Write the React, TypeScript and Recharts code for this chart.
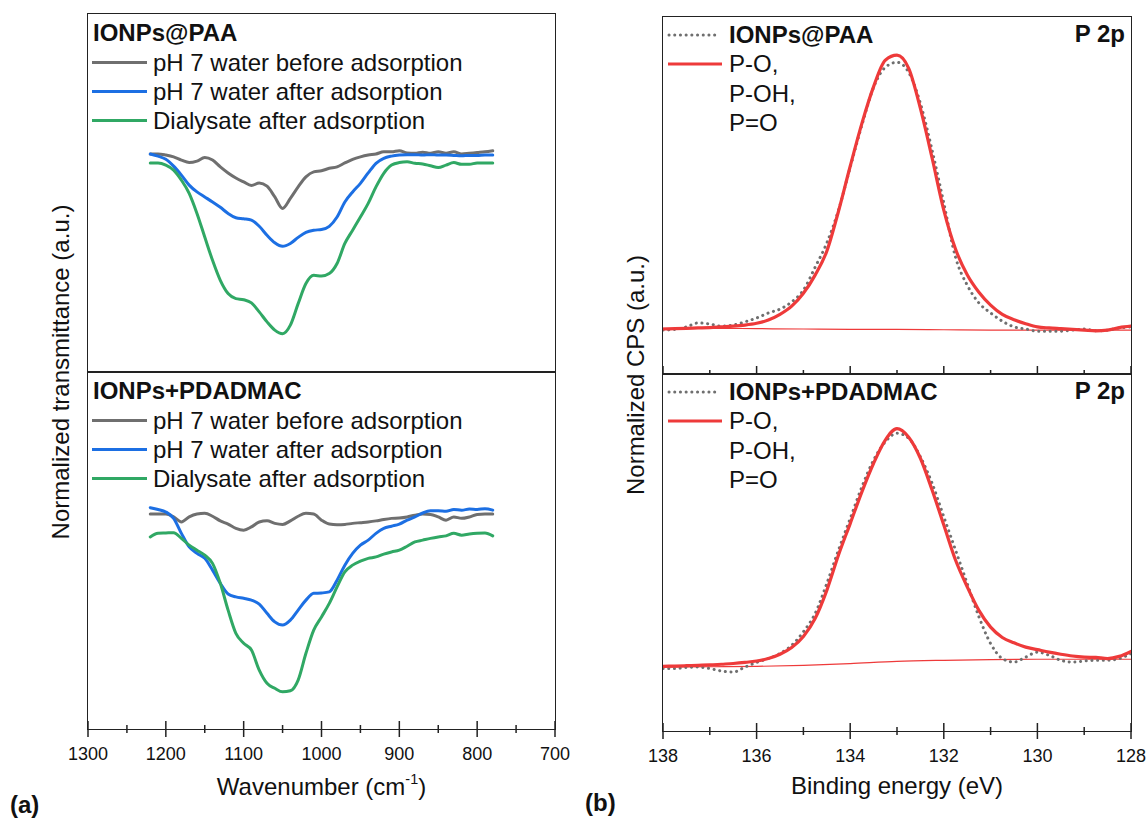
import React from "react";
import { LineChart, Line, XAxis, YAxis, Legend } from "recharts";

// ---- FTIR (panel a) ----
const wavenumbers = [
  1220, 1210, 1200, 1190, 1180, 1170, 1160, 1150, 1140, 1130, 1120, 1110, 1100, 1090, 1080,
  1070, 1060, 1050, 1040, 1030, 1020, 1010, 1000, 990, 980, 970, 960, 950, 940, 930,
  920, 910, 900, 890, 880, 870, 860, 850, 840, 830, 820, 810, 800, 790, 780,
];

const paaBefore = [
  0.609, 0.609, 0.606, 0.601, 0.592, 0.585, 0.589, 0.599, 0.592, 0.573, 0.556, 0.542, 0.531, 0.521, 0.528,
  0.519, 0.489, 0.457, 0.485, 0.517, 0.545, 0.559, 0.562, 0.569, 0.573, 0.584, 0.594, 0.601, 0.606, 0.609,
  0.615, 0.615, 0.618, 0.612, 0.611, 0.614, 0.611, 0.615, 0.611, 0.615, 0.609, 0.611, 0.613, 0.615, 0.618,
];
const paaAfter = [
  0.609, 0.603, 0.594, 0.575, 0.55, 0.522, 0.503, 0.489, 0.475, 0.46, 0.443, 0.431, 0.428, 0.424, 0.407,
  0.382, 0.361, 0.351, 0.359, 0.376, 0.39, 0.396, 0.398, 0.407, 0.433, 0.475, 0.503, 0.527, 0.556, 0.583,
  0.597, 0.603, 0.606, 0.607, 0.607, 0.606, 0.607, 0.606, 0.606, 0.605, 0.604, 0.605, 0.605, 0.606, 0.606,
];
const paaDialysate = [
  0.584, 0.584, 0.578, 0.564, 0.536, 0.499, 0.443, 0.377, 0.312, 0.256, 0.219, 0.205, 0.202, 0.193, 0.168,
  0.14, 0.117, 0.107, 0.131, 0.191, 0.247, 0.27, 0.268, 0.275, 0.303, 0.359, 0.396, 0.433, 0.471, 0.517,
  0.555, 0.578, 0.585, 0.587, 0.583, 0.581, 0.576, 0.571, 0.578, 0.585, 0.58, 0.58, 0.584, 0.584, 0.584,
];

const pdadmacBefore = [
  0.602, 0.602, 0.602, 0.594, 0.58, 0.594, 0.602, 0.604, 0.596, 0.583, 0.574, 0.562, 0.557, 0.566, 0.58,
  0.583, 0.576, 0.573, 0.583, 0.596, 0.604, 0.602, 0.585, 0.574, 0.572, 0.573, 0.576, 0.578, 0.58, 0.583,
  0.587, 0.59, 0.591, 0.594, 0.599, 0.602, 0.601, 0.594, 0.585, 0.594, 0.59, 0.594, 0.601, 0.602, 0.602,
];
const pdadmacAfter = [
  0.62, 0.615, 0.608, 0.59, 0.548, 0.51, 0.492, 0.478, 0.445, 0.408, 0.378, 0.37, 0.366, 0.361, 0.35,
  0.324, 0.3, 0.291, 0.305, 0.333, 0.361, 0.38, 0.381, 0.384, 0.417, 0.459, 0.492, 0.515, 0.529, 0.548,
  0.562, 0.568, 0.574, 0.585, 0.594, 0.605, 0.611, 0.611, 0.61, 0.615, 0.613, 0.616, 0.615, 0.617, 0.613,
];
const pdadmacDialysate = [
  0.538, 0.548, 0.549, 0.55, 0.534, 0.515, 0.501, 0.487, 0.464, 0.408, 0.333, 0.268, 0.24, 0.221, 0.165,
  0.128, 0.114, 0.104, 0.107, 0.137, 0.212, 0.277, 0.314, 0.352, 0.398, 0.44, 0.459, 0.47, 0.478, 0.482,
  0.49, 0.496, 0.501, 0.512, 0.524, 0.529, 0.534, 0.538, 0.541, 0.548, 0.543, 0.546, 0.548, 0.549, 0.541,
];

const ftirNames = ["pH 7 water before adsorption", "pH 7 water after adsorption", "Dialysate after adsorption"];
const ftirTicks = [1300, 1250, 1200, 1150, 1100, 1050, 1000, 950, 900, 850, 800, 750, 700];

// ---- XPS P 2p (panel b) ----
const bindingEnergy = [
  138, 137.75, 137.5, 137.25, 137, 136.75, 136.5, 136.25, 136, 135.75, 135.5, 135.25, 135, 134.75,
  134.5, 134.25, 134, 133.75, 133.5, 133.25, 133, 132.75, 132.5, 132.25, 132, 131.75, 131.5, 131.25,
  131, 130.75, 130.5, 130.25, 130, 129.75, 129.5, 129.25, 129, 128.75, 128.5, 128.25, 128,
];
const paaXps = [
  0.123, 0.125, 0.132, 0.143, 0.14, 0.134, 0.137, 0.146, 0.157, 0.171, 0.182, 0.202, 0.235, 0.299,
  0.367, 0.459, 0.579, 0.697, 0.803, 0.859, 0.873, 0.845, 0.758, 0.627, 0.479, 0.327, 0.249, 0.199,
  0.171, 0.148, 0.132, 0.126, 0.12, 0.12, 0.12, 0.123, 0.126, 0.121, 0.123, 0.129, 0.132,
];
const paaFit = [
  0.126, 0.127, 0.128, 0.129, 0.13, 0.132, 0.134, 0.137, 0.142, 0.151, 0.167, 0.19, 0.226, 0.277,
  0.344, 0.456, 0.582, 0.702, 0.805, 0.879, 0.893, 0.856, 0.744, 0.605, 0.459, 0.35, 0.278, 0.229,
  0.193, 0.167, 0.152, 0.141, 0.132, 0.129, 0.127, 0.125, 0.123, 0.121, 0.123, 0.13, 0.134,
];
const pdadmacXps = [
  0.175, 0.175, 0.178, 0.179, 0.175, 0.168, 0.165, 0.179, 0.192, 0.203, 0.217, 0.24, 0.278, 0.329,
  0.413, 0.507, 0.595, 0.684, 0.759, 0.81, 0.834, 0.82, 0.768, 0.694, 0.6, 0.507, 0.413, 0.32,
  0.245, 0.203, 0.193, 0.207, 0.221, 0.212, 0.198, 0.193, 0.196, 0.198, 0.198, 0.203, 0.217,
];
const pdadmacFit = [
  0.181, 0.182, 0.183, 0.184, 0.185, 0.187, 0.189, 0.192, 0.196, 0.203, 0.215, 0.234, 0.265, 0.315,
  0.394, 0.493, 0.581, 0.67, 0.75, 0.815, 0.847, 0.823, 0.764, 0.675, 0.577, 0.479, 0.404, 0.338,
  0.291, 0.262, 0.247, 0.235, 0.228, 0.221, 0.215, 0.21, 0.207, 0.206, 0.203, 0.209, 0.223,
];
const backgroundEnergy = [138, 137, 136, 135, 134, 133, 132, 131, 130, 129, 128];
const paaBg = [0.128, 0.128, 0.127, 0.126, 0.125, 0.125, 0.124, 0.123, 0.123, 0.123, 0.123];
const pdadmacBg = [0.179, 0.18, 0.181, 0.184, 0.189, 0.195, 0.198, 0.2, 0.201, 0.201, 0.201];
const xpsTicks = [138, 137, 136, 135, 134, 133, 132, 131, 130, 129, 128];
const xpsLabels = ["P-O,", "P-OH,", "P=O"];

const FONT = '"Liberation Sans", Arial, Helvetica, sans-serif';
const FRAME = "#222";
const GRAY = "#6f6f6f";
const BLUE = "#1c6fe3";
const GREEN = "#30a864";
const RED = "#ee3a3a";
const ftirColors = [GRAY, BLUE, GREEN];

const M = 30;
const MT = 4;

const pairs = (xs: number[], ys: number[]) => xs.map((x, i) => ({ x, y: ys[i] }));

type Series = { data: { x: number; y: number }[]; color: string; width: number; dotted?: boolean; name: string };

type SubplotProps = {
  left: number;
  top: number;
  width: number;
  height: number;
  domain: [number, number];
  ticks: number[];
  isMajor: (v: number) => boolean;
  tickMode: "none" | "inner" | "cross";
  labels: boolean;
  series: Series[];
  legend: React.ReactNode;
};

function Subplot({ left, top, width, height, domain, ticks, isMajor, tickMode, labels, series, legend }: SubplotProps) {
  const axisH = labels ? 44 : 1;
  const bottomM = labels ? 0 : 3;
  const axisY = MT + height; // plot bottom inside the svg
  const renderTick = (props: any) => {
    const { x, payload } = props;
    const major = isMajor(payload.value);
    const len = major ? 8 : 4;
    return (
      <g>
        {tickMode !== "none" && (
          <line x1={x} x2={x} y1={axisY - len} y2={tickMode === "cross" ? axisY + len : axisY} stroke={FRAME} strokeWidth={1.5} />
        )}
        {labels && major && (
          <text x={x} y={axisY + 31} textAnchor="middle" fontSize={18} fill="#111" fontFamily={FONT}>
            {payload.value}
          </text>
        )}
      </g>
    );
  };
  return (
    <div style={{ position: "absolute", left: left - M, top: top - MT }}>
      <LineChart
        width={width + 2 * M}
        height={MT + height + axisH + bottomM}
        margin={{ top: MT, right: M, bottom: bottomM, left: M }}
      >
        <XAxis
          xAxisId="b"
          dataKey="x"
          type="number"
          domain={domain}
          reversed
          allowDataOverflow
          ticks={ticks}
          interval={0}
          tickLine={false}
          tickSize={0}
          tickMargin={0}
          height={axisH}
          tick={renderTick}
          axisLine={false}
        />
        <YAxis yAxisId="l" type="number" domain={[0, 1]} allowDataOverflow hide />
        {series.map((s) => (
          <Line
            key={s.name}
            xAxisId="b"
            yAxisId="l"
            data={s.data}
            dataKey="y"
            name={s.name}
            type="monotone"
            stroke={s.color}
            strokeWidth={s.width}
            strokeDasharray={s.dotted ? "0.1 5.6" : undefined}
            strokeLinecap="round"
            dot={false}
            activeDot={false}
            isAnimationActive={false}
          />
        ))}
        <Legend
          layout="vertical"
          align="center"
          verticalAlign="middle"
          wrapperStyle={{ left: M, top: MT, width, height: 130, margin: 0 }}
          content={() => legend}
        />
      </LineChart>
      <div
        style={{
          position: "absolute",
          left: M - 0.8,
          top: MT - 0.8,
          width: width + 1.6,
          height: height + 1.6,
          border: `1.6px solid ${FRAME}`,
          boxSizing: "border-box",
          pointerEvents: "none",
        }}
      />
    </div>
  );
}

function FtirLegend({ title }: { title: string }) {
  return (
    <div style={{ position: "relative", width: 467, height: 130, fontFamily: FONT, color: "#111", fontSize: 24 }}>
      <div style={{ position: "absolute", left: 5, top: 4.5, lineHeight: "28px", fontWeight: 700 }}>{title}</div>
      {ftirNames.map((n, i) => (
        <React.Fragment key={n}>
          <div style={{ position: "absolute", left: 4, top: 48.5 + i * 29 - 1.5, width: 55, height: 3, background: ftirColors[i] }} />
          <div style={{ position: "absolute", left: 65, top: 48.5 + i * 29 - 14, lineHeight: "28px", whiteSpace: "nowrap" }}>{n}</div>
        </React.Fragment>
      ))}
    </div>
  );
}

function XpsLegend({ title }: { title: string }) {
  return (
    <div style={{ position: "relative", width: 468, height: 130, fontFamily: FONT, color: "#111", fontSize: 24 }}>
      <svg style={{ position: "absolute", left: 0, top: 0 }} width={70} height={60}>
        <line x1={6} x2={54} y1={18} y2={18} stroke={GRAY} strokeWidth={3} strokeDasharray="0.1 5.6" strokeLinecap="round" />
        <line x1={5} x2={59} y1={47} y2={47} stroke={RED} strokeWidth={3.2} />
      </svg>
      <div style={{ position: "absolute", left: 66, top: 4, lineHeight: "28px", fontWeight: 700 }}>{title}</div>
      <div style={{ position: "absolute", right: 6, top: 3, lineHeight: "28px", fontWeight: 700 }}>P 2p</div>
      {xpsLabels.map((t, i) => (
        <div key={t} style={{ position: "absolute", left: 66, top: 33 + i * 29.5, lineHeight: "28px" }}>{t}</div>
      ))}
    </div>
  );
}

const ftirSeries = (a: number[], b: number[], c: number[]): Series[] => [
  { data: pairs(wavenumbers, a), color: GRAY, width: 3, name: ftirNames[0] },
  { data: pairs(wavenumbers, b), color: BLUE, width: 3, name: ftirNames[1] },
  { data: pairs(wavenumbers, c), color: GREEN, width: 3, name: ftirNames[2] },
];

const xpsSeries = (raw: number[], fit: number[], bg: number[]): Series[] => [
  { data: pairs(backgroundEnergy, bg), color: RED, width: 1.2, name: "background" },
  { data: pairs(bindingEnergy, raw), color: GRAY, width: 3, dotted: true, name: "data" },
  { data: pairs(bindingEnergy, fit), color: RED, width: 3.2, name: "fit" },
];

const textBase: React.CSSProperties = { position: "absolute", fontFamily: FONT, color: "#111", whiteSpace: "nowrap" };

export default function App() {
  const ftirMajor = (v: number) => v % 100 === 0;
  const xpsMajor = (v: number) => v % 2 === 0;
  return (
    <div style={{ position: "absolute", left: 0, top: 0, width: 1148, height: 818, background: "#fff", overflow: "hidden" }}>
      <Subplot
        left={88} top={14} width={467} height={358}
        domain={[700, 1300]} ticks={ftirTicks} isMajor={ftirMajor} tickMode="none" labels={false}
        series={ftirSeries(paaBefore, paaAfter, paaDialysate)}
        legend={<FtirLegend title="IONPs@PAA" />}
      />
      <Subplot
        left={88} top={372} width={467} height={357}
        domain={[700, 1300]} ticks={ftirTicks} isMajor={ftirMajor} tickMode="cross" labels
        series={ftirSeries(pdadmacBefore, pdadmacAfter, pdadmacDialysate)}
        legend={<FtirLegend title="IONPs+PDADMAC" />}
      />
      <Subplot
        left={663} top={17} width={468} height={357}
        domain={[128, 138]} ticks={xpsTicks} isMajor={xpsMajor} tickMode="inner" labels={false}
        series={xpsSeries(paaXps, paaFit, paaBg)}
        legend={<XpsLegend title="IONPs@PAA" />}
      />
      <Subplot
        left={663} top={374} width={468} height={357}
        domain={[128, 138]} ticks={xpsTicks} isMajor={xpsMajor} tickMode="cross" labels
        series={xpsSeries(pdadmacXps, pdadmacFit, pdadmacBg)}
        legend={<XpsLegend title="IONPs+PDADMAC" />}
      />

      <div style={{ ...textBase, left: 61, top: 372, fontSize: 24, transform: "translate(-50%, -50%) rotate(-90deg)" }}>
        Normalized transmittance (a.u.)
      </div>
      <div style={{ ...textBase, left: 636, top: 375, fontSize: 24, transform: "translate(-50%, -50%) rotate(-90deg)" }}>
        Normalized CPS (a.u.)
      </div>
      <div style={{ ...textBase, left: 321.5, top: 786, fontSize: 24, transform: "translate(-50%, -50%)" }}>
        Wavenumber (cm<sup style={{ fontSize: "0.6em", verticalAlign: "0.7em" }}>-1</sup>)
      </div>
      <div style={{ ...textBase, left: 897, top: 786, fontSize: 24, transform: "translate(-50%, -50%)" }}>
        Binding energy (eV)
      </div>
      <div style={{ ...textBase, left: 10, top: 805, fontSize: 24, fontWeight: 700, transform: "translateY(-50%)" }}>(a)</div>
      <div style={{ ...textBase, left: 585, top: 803, fontSize: 24, fontWeight: 700, transform: "translateY(-50%)" }}>(b)</div>
    </div>
  );
}
